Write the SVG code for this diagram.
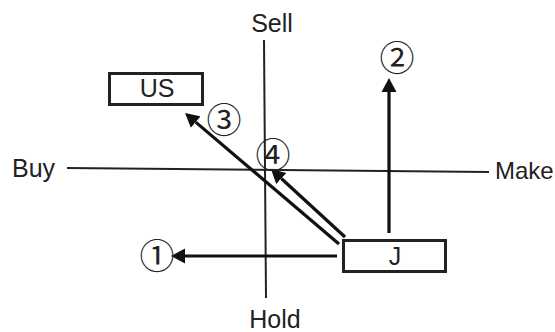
<svg xmlns="http://www.w3.org/2000/svg" width="555" height="332" viewBox="0 0 555 332">
<style>
.lbl{font-family:"Liberation Sans",Arial,sans-serif;font-size:25px;fill:#222}
.num{font-family:"Noto Sans CJK JP","DejaVu Sans",sans-serif;font-size:35px;fill:#222;text-anchor:middle}
.axis{stroke:#222;stroke-width:2;fill:none}
.arr{stroke:#111;stroke-width:3.2;fill:none;marker-end:url(#ah)}
.box{fill:#fff;stroke:#222;stroke-width:3}
</style>
<defs>
<marker id="ah" markerUnits="userSpaceOnUse" markerWidth="16" markerHeight="16" viewBox="0 -8 16 16" refX="0" refY="0" orient="auto">
<path d="M0,-7.5 L14,0 L0,7.5 Z" fill="#111"/>
</marker>
</defs>
<rect width="555" height="332" fill="#fff"/>
<g id="axes">
<line class="axis" x1="264" y1="40" x2="266" y2="298"/>
<line class="axis" x1="67" y1="168" x2="489" y2="172"/>
</g>
<g id="labels">
<text class="lbl" x="272" y="32" text-anchor="middle">Sell</text>
<text class="lbl" x="275" y="328" text-anchor="middle">Hold</text>
<text class="lbl" x="12" y="177">Buy</text>
<text class="lbl" x="495" y="179" style="font-size:24px">Make</text>
</g>
<g id="node-us">
<rect class="box" x="109.5" y="73.5" width="93" height="31"/>
<text class="lbl" x="157" y="97" text-anchor="middle">US</text>
</g>
<g id="node-j">
<rect class="box" x="343.5" y="240.5" width="102" height="31"/>
<text class="lbl" x="395" y="265" text-anchor="middle">J</text>
</g>
<g id="connectors">
<line class="arr" x1="337" y1="256" x2="185" y2="256"/>
<line class="arr" x1="389" y1="233" x2="389" y2="92"/>
<line class="arr" x1="339" y1="244" x2="195.7" y2="122.1"/>
<line class="arr" x1="345" y1="237" x2="281.3" y2="178.5"/>
</g>
<g id="numbers">
<text class="num" x="157" y="269">①</text>
<text class="num" x="397" y="71">②</text>
<text class="num" x="224" y="133">③</text>
<text class="num" x="273" y="168">④</text>
</g>
</svg>
